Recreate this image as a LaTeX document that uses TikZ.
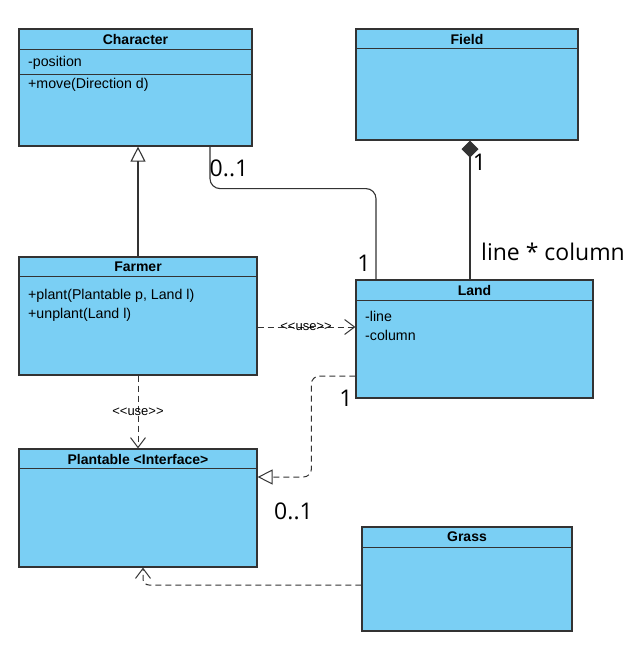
\documentclass[tikz,border=0pt]{standalone}
\usepackage{fontspec}
\setmainfont{Liberation Sans}
\newfontfamily\multfont{Open Sans}
\usetikzlibrary{arrows.meta,positioning}
\definecolor{classblue}{RGB}{122,207,244}
\definecolor{classline}{RGB}{51,51,51}

\begin{document}
\begin{tikzpicture}[x=1pt,y=-1pt,
  classbox/.style={draw=classline, fill=classblue, line width=1.2pt, inner sep=0pt},
  classtitle/.style={font=\bfseries\fontsize{14}{16}\selectfont, inner sep=0pt},
  member/.style={font=\fontsize{14.2}{16}\selectfont, anchor=west, inner sep=0pt},
  divider/.style={draw=classline, line width=1.2pt},
  mult/.style={font=\multfont\fontsize{23}{26}\selectfont, inner sep=0pt},
  stereo/.style={font=\fontsize{13}{15}\selectfont, inner sep=0pt},
  conn/.style={draw=classline, line width=1.1pt},
  dep/.style={conn, line width=1pt, dash pattern=on 6pt off 4pt},
  inherit/.style={-{Triangle[open,length=15pt,width=15pt]}},
  uses/.style={-{Straight Barb[length=10pt,width=15pt]}},
]
\useasboundingbox (0,0) rectangle (643,654);

% classes
\node[classbox, minimum width=233pt, minimum height=117pt] (character) at (135.5,87.5) {};
\node[classbox, minimum width=222pt, minimum height=111pt] (field) at (467,84.5) {};
\node[classbox, minimum width=238pt, minimum height=118pt] (farmer) at (138,316) {};
\node[classbox, minimum width=237pt, minimum height=118pt] (land) at (474.5,339) {};
\node[classbox, minimum width=238pt, minimum height=118pt] (plantable) at (138,508) {};
\node[classbox, minimum width=210pt, minimum height=104pt] (grass) at (467,579) {};

% compartments
\draw[divider] ([yshift=-21pt]character.north west) -- ([yshift=-21pt]character.north east);
\draw[divider] ([yshift=-46pt]character.north west) -- ([yshift=-46pt]character.north east);
\draw[divider] ([yshift=-20pt]field.north west) -- ([yshift=-20pt]field.north east);
\draw[divider] ([yshift=-20pt]farmer.north west) -- ([yshift=-20pt]farmer.north east);
\draw[divider] ([yshift=-21pt]land.north west) -- ([yshift=-21pt]land.north east);
\draw[divider] ([yshift=-20pt]plantable.north west) -- ([yshift=-20pt]plantable.north east);
\draw[divider] ([yshift=-21pt]grass.north west) -- ([yshift=-21pt]grass.north east);

% names and members
\node[classtitle] (charactername) at (135.5,39.5) {Character};
\node[member] (characterpos) at (28,63) {-position};
\node[member] (charactermove) at (28,85) {+move(Direction d)};
\node[classtitle] (fieldname) at (467,39) {Field};
\node[classtitle] (farmername) at (138,267) {Farmer};
\node[member] (farmerplant) at (28,296) {+plant(Plantable p, Land l)};
\node[member] (farmerunplant) at (28,315) {+unplant(Land l)};
\node[classtitle] (landname) at (474.5,290) {Land};
\node[member] (landline) at (365,316) {-line};
\node[member] (landcolumn) at (365,335) {-column};
\node[classtitle] (plantablename) at (138,459) {Plantable <Interface>};
\node[classtitle] (grassname) at (467,537) {Grass};

% connectors
\draw[conn, inherit] (farmer.north) -- (farmer.north |- character.south);
\draw[conn, rounded corners=10pt] ([xshift=74.5pt]character.south) -- ++(0,42) -| ([xshift=-98.5pt]land.north);
\draw[conn, {Diamond[length=17pt,width=17pt]}-] ([xshift=3pt]field.south) -- ([xshift=3pt]field.south |- land.north);
\draw[dep, uses] ([yshift=-11pt]farmer.east) -- ([yshift=-11pt]farmer.east -| land.west);
\draw[dep, uses] (farmer.south) -- (plantable.north);
\draw[dep, inherit, rounded corners=8pt] ([yshift=-37pt]land.west) -- ++(-44,0) |- ([yshift=31pt]plantable.east);
\draw[dep, uses, rounded corners=6pt] ([yshift=-6pt]grass.west) -| ([xshift=5pt]plantable.south);

% labels
\node[mult] (charmult) at (229,168.5) {0..1};
\node[mult] (landmulta) at (364,263.5) {1};
\node[mult] (fieldmult) at (479.5,162.5) {1};
\node[mult, anchor=west] (fieldrole) at (481,252) {line * column};
\node[mult] (landmultb) at (346,398) {1};
\node[mult] (plantablemult) at (293.5,511) {0..1};
\node[stereo] (farmeruseland) at (306,327) {{<}{<}use{>}{>}};
\node[stereo] (farmeruseplant) at (138,412) {{<}{<}use{>}{>}};
\end{tikzpicture}
\end{document}
